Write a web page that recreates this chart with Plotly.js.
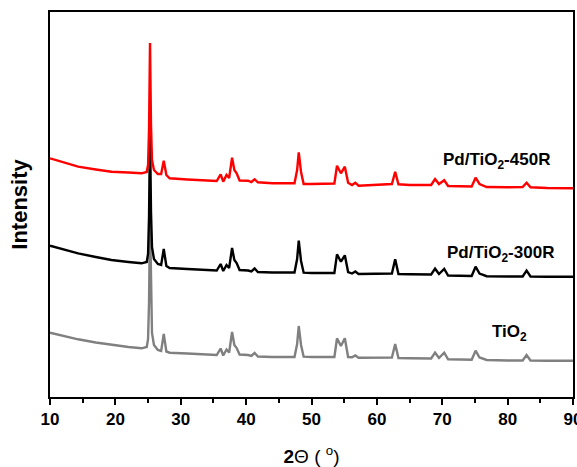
<!DOCTYPE html>
<html>
<head>
<meta charset="utf-8">
<script src="https://cdn.plot.ly/plotly-3.0.1.min.js"></script>
<style>html,body{margin:0;padding:0;background:#fff;}#chart{width:577px;height:467px;}</style>
</head>
<body>
<div id="chart"></div>
<script>
// 2θ positions (degrees)
const twoTheta = [10, 12, 14.3, 17, 19.4, 22, 24, 24.8, 25.0, 25.15, 25.3, 25.45, 25.6, 25.9, 26.5, 27.0, 27.4, 27.8, 28.3, 31, 35.5, 36.1, 36.5, 37.0, 37.4, 37.85, 38.2, 38.55, 39, 40.3, 40.8, 41.3, 41.8, 44, 47.4, 47.8, 48.05, 48.4, 48.8, 50, 53.5, 53.9, 54.5, 55.1, 55.6, 56.2, 56.7, 57.2, 60, 62.3, 62.8, 63.3, 65, 68.3, 68.9, 69.5, 70.3, 70.9, 74.5, 75.1, 75.7, 76.1, 76.8, 80, 82.3, 82.9, 83.5, 86, 90];

// Intensity (a.u., offset stacked)
const pd450R = [238.7, 235, 230.3, 227.5, 225.3, 224.5, 223.7, 225, 232, 268, 354, 272, 237, 227, 223, 223, 236.3, 222, 218.7, 217.5, 216, 222.7, 215.3, 222, 219, 239.3, 227, 223.7, 216.5, 216.3, 215, 217.7, 214.7, 213.7, 213.7, 227, 244.7, 225, 213, 213, 213.5, 231.3, 223.7, 230.3, 214.3, 212, 214.3, 211.3, 212, 213, 225.3, 212.7, 212, 212, 218, 213, 216.7, 211, 210.5, 219.3, 213, 212, 210, 209.7, 210, 214.3, 209.7, 209, 208.7];

const pd300R = [151.3, 147.5, 143.7, 140, 137, 135, 133.7, 135, 143, 181, 267, 185, 150, 138, 133, 132, 148, 131, 129, 128, 126.5, 133, 126, 132, 129, 149, 137, 134, 127, 126.5, 125.5, 128.5, 125, 124.5, 124.5, 138, 156.3, 136, 124.3, 124, 124, 142.7, 135.3, 141.7, 125, 123.5, 125.5, 123, 123, 123.5, 137.7, 123, 122.7, 122.5, 128.3, 123, 128, 121.5, 121, 130.3, 123.5, 122.5, 120.8, 120.5, 120.5, 126.3, 120.5, 120.3, 120.3];

const tio2 = [64.3, 61, 57.7, 54.5, 52, 50, 48.7, 50, 58, 95, 180, 99, 64, 52, 47, 46, 63, 45.5, 44.3, 43.5, 42, 48.5, 41.5, 47.5, 44.5, 65, 52, 49, 42.5, 42, 41, 44, 40.5, 40, 40, 53, 71, 52, 40.3, 40, 40, 58.7, 51, 58.7, 40, 39.7, 41.5, 39.3, 39, 39.5, 53, 39, 38.7, 38.5, 44.3, 39, 44.3, 37.7, 37.3, 46.3, 39.5, 38.5, 37, 36.5, 36.5, 42, 36.5, 36.3, 36.3];

const seriesNames = ['TiO<sub>2</sub>', 'Pd/TiO<sub>2</sub>-300R', 'Pd/TiO<sub>2</sub>-450R'];
const seriesColors = ['#808080', '#000000', '#ff0000'];
const seriesData = [tio2, pd300R, pd450R];
const labelPos = [[80.3, 64], [78.9, 143], [78.3, 236]];

const traces = seriesData.map((y, i) => ({
  x: twoTheta, y: y, type: 'scatter', mode: 'lines', name: seriesNames[i],
  line: {color: seriesColors[i], width: 2.4}, hoverinfo: 'skip'
}));

const annotations = seriesNames.map((t, i) => ({
  x: labelPos[i][0], y: labelPos[i][1], xref: 'x', yref: 'y',
  text: '<b>' + t + '</b>', showarrow: false,
  font: {family: 'Liberation Sans, Arial, sans-serif', size: 17, color: '#000'}
}));

const layout = {
  width: 577, height: 467,
  margin: {l: 50, r: 4, t: 12, b: 70},
  paper_bgcolor: '#fff', plot_bgcolor: '#fff',
  showlegend: false,
  font: {family: 'Liberation Sans, Arial, sans-serif', color: '#000'},
  xaxis: {
    range: [10, 90], dtick: 10, tick0: 10,
    ticks: 'outside', ticklen: 6, tickwidth: 2, tickcolor: '#000',
    minor: {dtick: 5, ticks: 'outside', ticklen: 4, tickwidth: 2, tickcolor: '#000'},
    showline: true, linewidth: 2, linecolor: '#000', mirror: true,
    showgrid: false, zeroline: false,
    ticklabeloverflow: 'allow',
    tickfont: {size: 17, color: '#000', family: 'Liberation Sans, Arial, sans-serif', weight: 'bold'},
    title: {text: '<b>2</b>Θ ( <sup>o</sup>)', font: {size: 19, color: '#000'}, standoff: 24}
  },
  yaxis: {
    range: [0, 385], showticklabels: false, ticks: '',
    showline: true, linewidth: 2, linecolor: '#000', mirror: true,
    showgrid: false, zeroline: false,
    title: {text: '<b>Intensity</b>', font: {size: 22, color: '#000'}, standoff: 14}
  },
  annotations: annotations
};

Plotly.newPlot('chart', traces, layout, {staticPlot: true, displayModeBar: false});
</script>
</body>
</html>
